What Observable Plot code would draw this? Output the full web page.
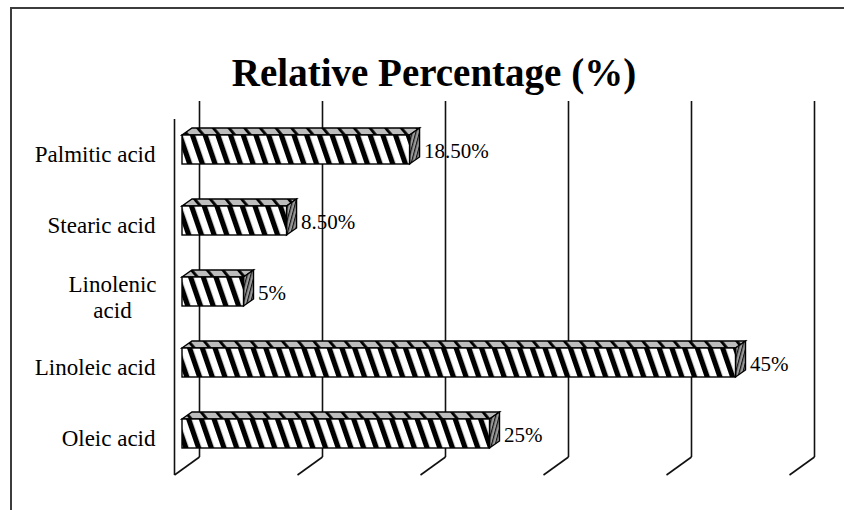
<!DOCTYPE html>
<html>
<head>
<meta charset="utf-8">
<script src="https://cdn.jsdelivr.net/npm/d3@7"></script>
<script src="https://cdn.jsdelivr.net/npm/@observablehq/plot@0.6"></script>
<style>
  html, body { margin: 0; background: #fff; overflow: hidden; }
  #fig { position: relative; width: 844px; height: 510px; overflow: hidden; background: #fff; }
  #border { position: absolute; left: 10px; top: 7px; width: 834px; height: 503px; box-sizing: border-box;
            border-top: 2px solid #3c3c3c; border-left: 2px solid #3c3c3c; border-right: 0; border-bottom: 0; }
  #title { position: absolute; left: 0; top: 50px; width: 868px; text-align: center; white-space: nowrap;
           font: bold 39px "Liberation Serif", "Times New Roman", serif; color: #000; }
  #chart { position: absolute; left: 0; top: 100px; }
  #defs { position: absolute; left: 0; top: 0; width: 0; height: 0; }
</style>
</head>
<body>
<div id="fig">
  <!-- fill patterns for the bar faces -->
  <svg id="defs" width="0" height="0">
    <defs>
      <pattern id="hatch-front" patternUnits="userSpaceOnUse" width="12" height="12" patternTransform="rotate(-19)">
        <rect width="12" height="12" fill="#fff"/>
        <rect x="0" width="5.2" height="12" fill="#000"/>
      </pattern>
      <pattern id="hatch-top" patternUnits="userSpaceOnUse" width="12" height="12" patternTransform="rotate(-40)">
        <rect width="12" height="12" fill="#bdbdbd"/>
        <rect x="0" width="2.8" height="12" fill="#000"/>
      </pattern>
      <pattern id="hatch-side" patternUnits="userSpaceOnUse" width="3.5" height="12" patternTransform="rotate(15)">
        <rect width="3.5" height="12" fill="#9a9a9a"/>
        <rect x="0" width="1.2" height="12" fill="#111"/>
      </pattern>
    </defs>
  </svg>
  <div id="border"></div>
  <div id="title">Relative Percentage (%)</div>
  <div id="chart"></div>
</div>

<script>
// Fatty acid composition
const acids = ["Palmitic acid", "Stearic acid", "Linolenic acid", "Linoleic acid", "Oleic acid"];
const shares = [18.5, 8.5, 5, 45, 25];
const shareLabels = ["18.50%", "8.50%", "5%", "45%", "25%"];
const acidLabels = ["Palmitic acid", "Stearic acid", "Linolenic\nacid", "Linoleic acid", "Oleic acid"];
const gridTicks = [0, 10, 20, 30, 40, 50];

const rows = acids.map((acid, i) => ({
  acid, share: shares[i], label: shareLabels[i], name: acidLabels[i]
}));

// pseudo-3D offsets (pixels)
const BAR_DEPTH = [10, -7];     // bar extrusion toward the back wall
const WALL_BACK = [17, -18];    // back wall relative to the bar plane
const WALL_FRONT = -8;          // front edge of the floor relative to the bar plane

// turn each bar rectangle into its top or right-side face
function extrude(face) {
  return (index, scales, values, dimensions, context, next) => {
    const g = next(index, scales, values, dimensions, context);
    const [ox, oy] = BAR_DEPTH;
    for (const r of Array.from(g.querySelectorAll("rect"))) {
      const x = +r.getAttribute("x"), y = +r.getAttribute("y");
      const w = +r.getAttribute("width"), h = +r.getAttribute("height");
      const p = document.createElementNS(r.namespaceURI, "path");
      p.setAttribute("d", face === "top"
        ? `M${x},${y}L${x + w},${y}L${x + w + ox},${y + oy}L${x + ox},${y + oy}Z`
        : `M${x + w},${y}L${x + w + ox},${y + oy}L${x + w + ox},${y + h + oy}L${x + w},${y + h}Z`);
      r.replaceWith(p);
    }
    return g;
  };
}

// slanted floor lines joining the front edge to the back wall gridlines
function floorLines(index, scales, values, dimensions, context, next) {
  const g = next(index, scales, values, dimensions, context);
  for (const l of Array.from(g.querySelectorAll("line"))) {
    const x = +l.getAttribute("x1"), yb = +l.getAttribute("y2");
    l.setAttribute("x1", x + WALL_FRONT);
    l.setAttribute("y1", yb);
    l.setAttribute("x2", x + WALL_BACK[0]);
    l.setAttribute("y2", yb + WALL_BACK[1]);
  }
  return g;
}

const font = "'Liberation Serif', 'Times New Roman', serif";

const chart = Plot.plot({
  width: 844,
  height: 410,
  marginTop: 19,
  marginBottom: 35,
  marginLeft: 182,
  marginRight: 47,
  x: {domain: [0, 50], axis: null},
  y: {domain: acids, range: [13.375, 369.625], paddingInner: 0.593, paddingOuter: 0.2965, axis: null},
  style: {fontFamily: font, background: "transparent", color: "#000", overflow: "visible"},
  marks: [
    // back wall gridlines
    Plot.ruleX(gridTicks, {x: d => d, dx: WALL_BACK[0], dy: WALL_BACK[1], stroke: "#111", strokeWidth: 1.6}),
    // floor
    Plot.ruleX(gridTicks, {x: d => d, stroke: "#111", strokeWidth: 1.6, render: floorLines}),
    // front edge of the side wall
    Plot.ruleX([0], {dx: WALL_FRONT, stroke: "#111", strokeWidth: 1.6}),
    // bars: top, side, front
    Plot.barX(rows, {x: "share", y: "acid", fill: "url(#hatch-top)", stroke: "#000", strokeWidth: 1.4, render: extrude("top")}),
    Plot.barX(rows, {x: "share", y: "acid", fill: "url(#hatch-side)", stroke: "#000", strokeWidth: 1.4, render: extrude("side")}),
    Plot.barX(rows, {x: "share", y: "acid", fill: "url(#hatch-front)", stroke: "#000", strokeWidth: 1.4}),
    // value labels
    Plot.text(rows, {x: "share", y: "acid", text: "label", dx: 14, dy: 1, textAnchor: "start",
      fontSize: 21, fill: "#000"}),
    // category labels
    Plot.text(rows.filter(d => !d.name.includes("\n")), {y: "acid", text: "name", frameAnchor: "left",
      dx: -27, dy: 5, textAnchor: "end", fontSize: 23, fill: "#000"}),
    Plot.text(rows.filter(d => d.name.includes("\n")), {y: "acid", text: "name", frameAnchor: "left",
      dx: -70, dy: 5, textAnchor: "middle", lineHeight: 1.1, fontSize: 23, fill: "#000"})
  ]
});

document.getElementById("chart").append(chart);
</script>
</body>
</html>
